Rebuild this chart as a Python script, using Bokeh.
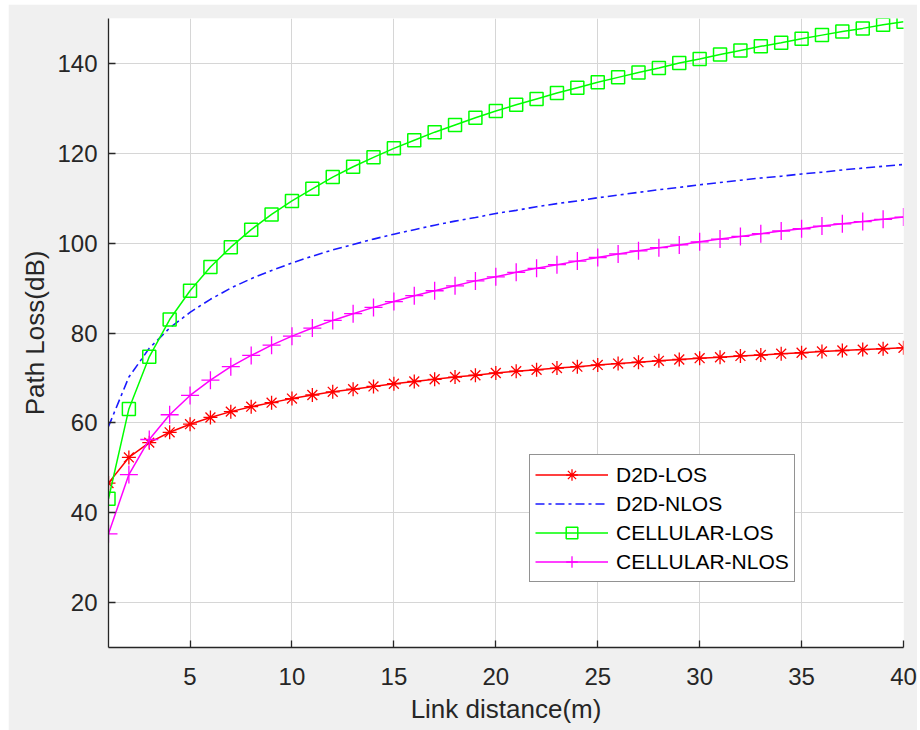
from bokeh.plotting import figure
from bokeh.models import Range1d, Legend, LegendItem, FixedTicker
from bokeh.embed import file_html
from bokeh.resources import INLINE

# ---- data ----
distance = list(range(1, 41))

d2d_los = [46.6, 52.3, 55.6, 57.9, 59.7, 61.2, 62.5, 63.6, 64.5, 65.4,
           66.2, 66.9, 67.5, 68.1, 68.7, 69.2, 69.7, 70.2, 70.6, 71.1,
           71.5, 71.8, 72.2, 72.5, 72.9, 73.2, 73.5, 73.8, 74.1, 74.4,
           74.6, 74.9, 75.1, 75.4, 75.6, 75.9, 76.1, 76.3, 76.5, 76.7]

d2d_nlos = [59.2, 70.2, 76.6, 81.1, 84.6, 87.5, 90.0, 92.1, 93.9, 95.6,
            97.1, 98.5, 99.7, 100.9, 102.0, 103.0, 104.0, 104.9, 105.7, 106.6,
            107.3, 108.1, 108.8, 109.4, 110.1, 110.7, 111.3, 111.9, 112.4, 113.0,
            113.5, 114.0, 114.5, 114.9, 115.4, 115.8, 116.3, 116.7, 117.1, 117.5]

cell_los = [43.1, 63.1, 74.7, 83.0, 89.4, 94.7, 99.1, 103.0, 106.4, 109.4,
            112.1, 114.7, 117.0, 119.1, 121.1, 122.9, 124.7, 126.3, 127.9, 129.4,
            130.8, 132.1, 133.4, 134.6, 135.8, 136.9, 138.0, 139.0, 140.1, 141.0,
            142.0, 142.9, 143.8, 144.6, 145.5, 146.3, 147.1, 147.8, 148.6, 149.3]

cell_nlos = [35.3, 48.5, 56.3, 61.8, 66.1, 69.5, 72.5, 75.0, 77.3, 79.3,
             81.1, 82.8, 84.3, 85.7, 87.0, 88.3, 89.4, 90.5, 91.6, 92.5,
             93.5, 94.4, 95.2, 96.0, 96.8, 97.6, 98.3, 99.0, 99.6, 100.3,
             100.9, 101.5, 102.1, 102.7, 103.2, 103.8, 104.3, 104.8, 105.3, 105.8]

series_names = ["D2D-LOS", "D2D-NLOS", "CELLULAR-LOS", "CELLULAR-NLOS"]
x_ticks = [5, 10, 15, 20, 25, 30, 35, 40]
y_ticks = [20, 40, 60, 80, 100, 120, 140]

FONT = "Liberation Sans"
TXT = "#262626"

p = figure(width=909, height=726, output_backend="svg", toolbar_location=None,
           x_range=Range1d(1, 40), y_range=Range1d(10, 150),
           min_border_left=100, min_border_right=14, min_border_top=14, min_border_bottom=83)
p.margin = (4, 3, 0, 8)
p.border_fill_color = "#f0f0f0"
p.background_fill_color = "white"
p.outline_line_color = None

for ax in (p.xaxis[0], p.yaxis[0]):
    ax.axis_line_color = TXT
    ax.axis_line_width = 1.3
    ax.major_tick_line_color = TXT
    ax.major_tick_line_width = 1.3
    ax.major_tick_in = 7
    ax.major_tick_out = 0
    ax.minor_tick_line_color = None
    ax.major_label_text_font = FONT
    ax.major_label_text_font_size = "24px"
    ax.major_label_text_color = TXT
    ax.axis_label_text_font = FONT
    ax.axis_label_text_font_size = "26px"
    ax.axis_label_text_font_style = "normal"
    ax.axis_label_text_color = TXT

p.xaxis.ticker = FixedTicker(ticks=x_ticks)
p.yaxis.ticker = FixedTicker(ticks=y_ticks)
p.xaxis.axis_label = "Link distance(m)"
p.yaxis.axis_label = "Path Loss(dB)"
p.xaxis.major_label_standoff = 20
p.yaxis.major_label_standoff = 11
p.xaxis.axis_label_standoff = 6
p.yaxis.axis_label_standoff = 4

p.grid.grid_line_color = "#d6d6d6"
p.grid.grid_line_width = 1

# series
r1l = p.line(distance, d2d_los, line_color="#ff0000", line_width=1.5)
r1m = p.scatter(distance, d2d_los, marker="asterisk", size=14, line_color="#ff0000", line_width=1.3)

r2l = p.line(distance, d2d_nlos, line_color="#1a1aff", line_width=1.6, line_dash="9 4 3 4")

r3l = p.line(distance, cell_los, line_color="#00ff00", line_width=1.5)
r3m = p.scatter(distance, cell_los, marker="square", size=13, line_color="#00ff00",
                fill_color=None, line_width=1.5)

r4l = p.line(distance, cell_nlos, line_color="#ff00ff", line_width=1.5)
r4m = p.scatter(distance, cell_nlos, marker="cross", size=18, line_color="#ff00ff", line_width=1.3)

legend = Legend(items=[
    LegendItem(label=series_names[0], renderers=[r1l, r1m]),
    LegendItem(label=series_names[1], renderers=[r2l]),
    LegendItem(label=series_names[2], renderers=[r3l, r3m]),
    LegendItem(label=series_names[3], renderers=[r4l, r4m]),
], location=(421, 65))
legend.label_text_font = FONT
legend.label_text_font_size = "21px"
legend.label_text_color = "#000000"
legend.glyph_width = 73
legend.glyph_height = 29
legend.label_height = 29
legend.label_standoff = 8
legend.spacing = 0
legend.padding = 5
legend.margin = 0
legend.border_line_color = TXT
legend.border_line_width = 1
legend.background_fill_color = "white"
legend.background_fill_alpha = 1
p.add_layout(legend, "center")

open("out.html", "w").write(file_html(p, INLINE))
